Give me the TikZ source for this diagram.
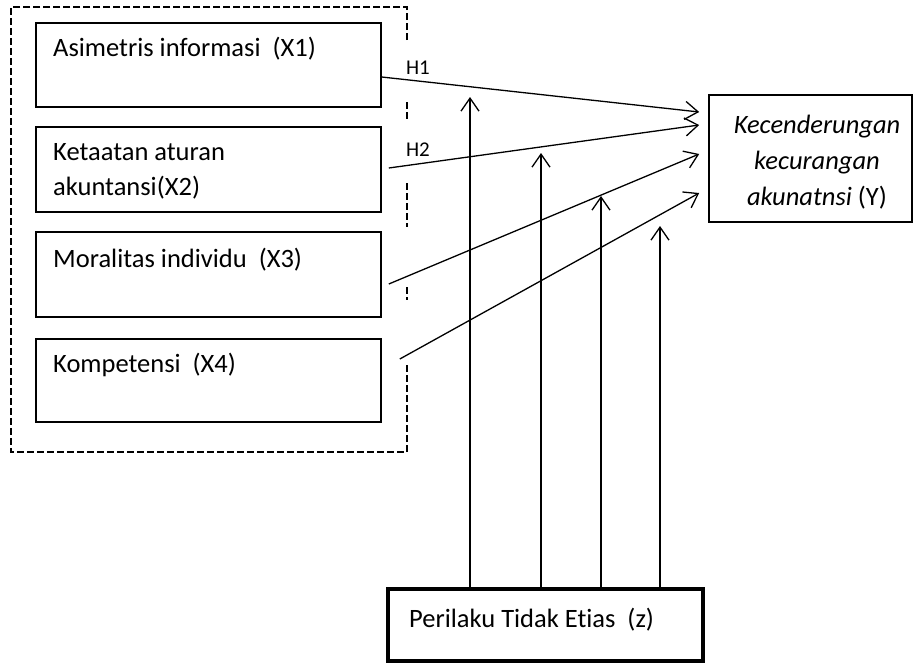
\documentclass[tikz,border=0pt]{standalone}
\usepackage{fontspec}
\setmainfont{Carlito}[Ligatures=NoCommon]
\usetikzlibrary{arrows.meta,calc}
\begin{document}
\begin{tikzpicture}[x=1pt,y=-1pt,
  box/.style={draw,line width=1.6pt,inner sep=0pt},
  lbl/.style={font=\fontsize{26.5}{35}\selectfont,inner sep=0pt,anchor=base west},
  hlbl/.style={font=\fontsize{21}{25}\selectfont,inner sep=0pt},
  conn/.style={line width=1.3pt,-{Straight Barb[length=13pt,width=18pt,line width=1.3pt]}},
  group/.style={line width=2.4pt,dash pattern=on 7pt off 3pt}]
\useasboundingbox (0,0) rectangle (914,665);
% dashed group
\draw[group] (407,40) -- (407,7) -- (11,7) -- (11,452) -- (407,452) -- (407,363);
\draw[group] (407,102) -- (407,122);
\draw[group] (407,183) -- (407,227);
\draw[group] (407,287) -- (407,300);
% boxes
\node[box,minimum width=345pt,minimum height=84pt] (x1) at (208.5,65) {};
\node[box,minimum width=345pt,minimum height=85pt] (x2) at (208.5,169.5) {};
\node[box,minimum width=345pt,minimum height=85pt] (x3) at (208.5,274.5) {};
\node[box,minimum width=345pt,minimum height=83pt] (x4) at (208.5,380.5) {};
\node[lbl] (t1) at (53,56) {Asimetris informasi\ \ (X1)};
\node[lbl] (t2a) at (53,160) {Ketaatan aturan};
\node[lbl] (t2b) at (53,195) {akuntansi(X2)};
\node[lbl] (t3) at (53,267) {Moralitas individu\ \ (X3)};
\node[lbl] (t4) at (53,372) {Kompetensi\ \ (X4)};
\node[box,minimum width=203pt,minimum height=127pt] (y) at (810.5,158.5) {};
\node[align=center,inner sep=0pt,font=\fontsize{26.5}{36}\selectfont] (ty) at (817,162)
  {\textit{Kecenderungan}\\\textit{kecurangan}\\\textit{akunatnsi} (Y)};
\node[draw,line width=4.5pt,inner sep=0pt,minimum width=315pt,minimum height=72pt] (z) at (545.5,625) {};
\node[lbl] (tz) at (409,627) {Perilaku Tidak Etias\ \ (z)};
% hypothesis labels
\node[hlbl] (h1) at (418,68) {H1};
\node[hlbl] (h2) at (418,150) {H2};
% connectors X -> Y
\coordinate (s1) at ($(x1.east)+(0,12)$);
\coordinate (s2) at ($(x2.east)+(7,-1.5)$);
\coordinate (s3) at ($(x3.east)+(7,9.5)$);
\coordinate (s4) at ($(x4.east)+(18,-21.5)$);
\coordinate (e1) at ($(y.west)+(-9,-46.5)$);
\coordinate (e2) at ($(y.west)+(-9,-33.5)$);
\coordinate (e3) at ($(y.west)+(-9,-4.5)$);
\coordinate (e4) at ($(y.west)+(-9,34.5)$);
\draw[conn] (s1) -- (e1);
\draw[conn] (s2) -- (e2);
\draw[conn] (s3) -- (e3);
\draw[conn] (s4) -- (e4);
% moderator arrows
\coordinate (m1) at (470,97);
\coordinate (m2) at (541,153);
\coordinate (m3) at (601,196);
\coordinate (m4) at (660,226);
\draw[conn] (z.north -| m1) -- (m1);
\draw[conn] (z.north -| m2) -- (m2);
\draw[conn] (z.north -| m3) -- (m3);
\draw[conn] (z.north -| m4) -- (m4);
\end{tikzpicture}
\end{document}
